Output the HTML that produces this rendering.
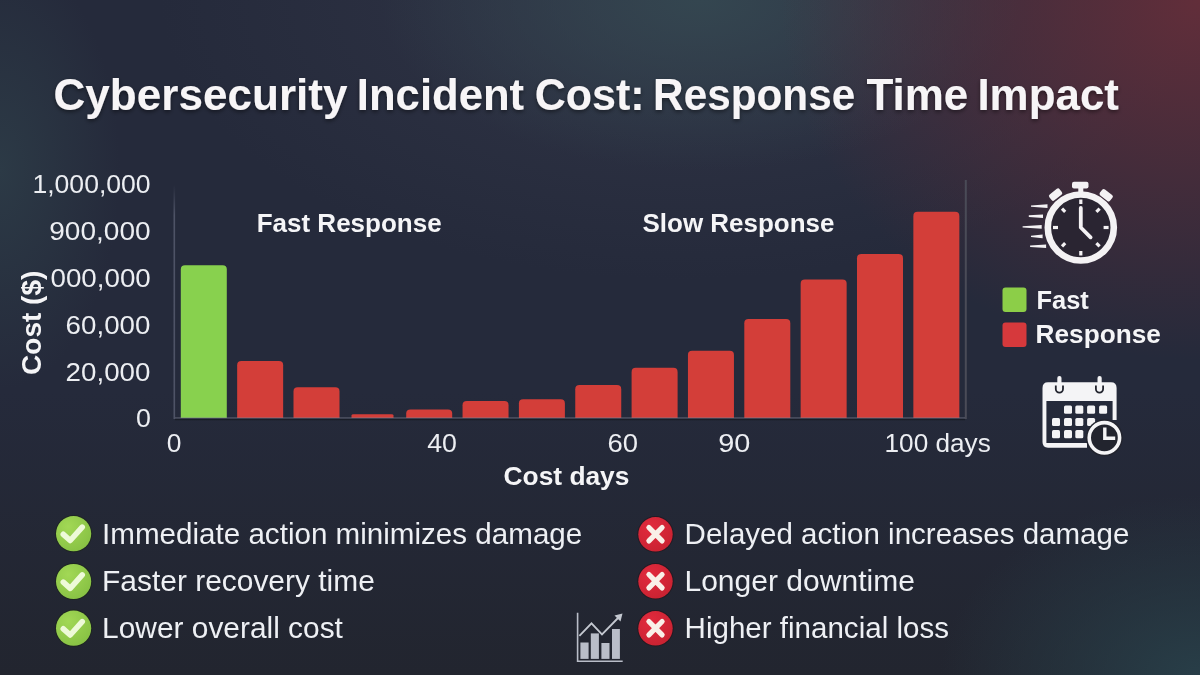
<!DOCTYPE html>
<html>
<head>
<meta charset="utf-8">
<style>
html,body{margin:0;padding:0;}
body{width:1200px;height:675px;overflow:hidden;position:relative;
background:
 radial-gradient(ellipse 420px 360px at 1200px 0px, rgba(98,46,58,1), rgba(98,46,58,0) 100%),
 radial-gradient(ellipse 320px 170px at 700px 0px, rgba(52,70,80,1), rgba(52,70,80,0) 100%),
 radial-gradient(ellipse 520px 280px at 680px 0px, rgba(58,62,80,0.55), rgba(58,62,80,0) 100%),
 radial-gradient(ellipse 260px 180px at 1200px 675px, rgba(40,62,72,1), rgba(40,62,72,0) 100%),
 radial-gradient(ellipse 120px 220px at 0px 170px, rgba(44,58,70,1), rgba(44,58,70,0) 100%),
 linear-gradient(to bottom, #252a3b 0%, #252a3b 58%, #22252f 100%);
font-family:"Liberation Sans",sans-serif;}
svg{position:absolute;left:0;top:0;}
</style>
</head>
<body>
<svg width="1200" height="675" viewBox="0 0 1200 675">
<defs>
 <filter id="ts" x="-5%" y="-20%" width="110%" height="160%">
  <feDropShadow dx="0" dy="2" stdDeviation="2" flood-color="#000" flood-opacity="0.45"/>
 </filter>
</defs>
<!-- Title -->
<text id="title" y="110" font-family="Liberation Sans, sans-serif" font-weight="700" font-size="44" fill="#f7f5f7" filter="url(#ts)" text-anchor="start"><tspan x="53.4" textLength="294.19" lengthAdjust="spacingAndGlyphs">Cybersecurity</tspan> <tspan x="356.82" textLength="167.36" lengthAdjust="spacingAndGlyphs">Incident</tspan> <tspan x="534.64" textLength="110.02" lengthAdjust="spacingAndGlyphs">Cost:</tspan> <tspan x="653.12" textLength="202.13" lengthAdjust="spacingAndGlyphs">Response</tspan> <tspan x="866.4" textLength="101.91" lengthAdjust="spacingAndGlyphs">Time</tspan> <tspan x="977.41" textLength="141.52" lengthAdjust="spacingAndGlyphs">Impact</tspan></text>

<!-- axes -->
<defs>
 <linearGradient id="axfade" x1="0" y1="185" x2="0" y2="215" gradientUnits="userSpaceOnUse">
  <stop offset="0" stop-color="#4e5366" stop-opacity="0"/>
  <stop offset="1" stop-color="#4e5366" stop-opacity="1"/>
 </linearGradient>
</defs>
<rect x="173.5" y="184" width="1.6" height="235" fill="url(#axfade)"/>
<rect x="964.8" y="180" width="2" height="239" fill="#4a4b57"/>
<rect x="175" y="419" width="790" height="1.2" fill="#171a24" opacity="0.8"/>
<!-- bars -->
<g id="bars">
 <path d="M180.80,418 V269.40 Q180.80,265.20 185.00,265.20 H222.60 Q226.80,265.20 226.80,269.40 V418 Z" fill="#88d14e"/>
 <path d="M237.15,418 V365.30 Q237.15,361.10 241.35,361.10 H278.95 Q283.15,361.10 283.15,365.30 V418 Z" fill="#d33e39"/>
 <path d="M293.50,418 V391.40 Q293.50,387.20 297.70,387.20 H335.30 Q339.50,387.20 339.50,391.40 V418 Z" fill="#d33e39"/>
 <path d="M351.5,418 V415.6 Q351.5,414.2 353.5,414.2 H391.5 Q393.5,414.2 393.5,415.6 V418 Z" fill="#d33e39"/>
 <path d="M406.20,418 V413.60 Q406.20,409.40 410.40,409.40 H448.00 Q452.20,409.40 452.20,413.60 V418 Z" fill="#d33e39"/>
 <path d="M462.55,418 V405.20 Q462.55,401.00 466.75,401.00 H504.35 Q508.55,401.00 508.55,405.20 V418 Z" fill="#d33e39"/>
 <path d="M518.90,418 V403.50 Q518.90,399.30 523.10,399.30 H560.70 Q564.90,399.30 564.90,403.50 V418 Z" fill="#d33e39"/>
 <path d="M575.25,418 V389.20 Q575.25,385.00 579.45,385.00 H617.05 Q621.25,385.00 621.25,389.20 V418 Z" fill="#d33e39"/>
 <path d="M631.60,418 V372.00 Q631.60,367.80 635.80,367.80 H673.40 Q677.60,367.80 677.60,372.00 V418 Z" fill="#d33e39"/>
 <path d="M687.95,418 V354.90 Q687.95,350.70 692.15,350.70 H729.75 Q733.95,350.70 733.95,354.90 V418 Z" fill="#d33e39"/>
 <path d="M744.30,418 V323.30 Q744.30,319.10 748.50,319.10 H786.10 Q790.30,319.10 790.30,323.30 V418 Z" fill="#d33e39"/>
 <path d="M800.65,418 V283.80 Q800.65,279.60 804.85,279.60 H842.45 Q846.65,279.60 846.65,283.80 V418 Z" fill="#d33e39"/>
 <path d="M857.00,418 V258.20 Q857.00,254.00 861.20,254.00 H898.80 Q903.00,254.00 903.00,258.20 V418 Z" fill="#d33e39"/>
 <path d="M913.35,418 V215.90 Q913.35,211.70 917.55,211.70 H955.15 Q959.35,211.70 959.35,215.90 V418 Z" fill="#d33e39"/>
</g>

<rect x="175" y="417.3" width="790" height="1.2" fill="#7d8290" opacity="0.55"/>

<!-- y labels -->
<g font-family="Liberation Sans, sans-serif" font-size="26" fill="#eceef2" text-anchor="end">
 <text id="y1M" x="32.43" y="193" text-anchor="start" textLength="118.23" lengthAdjust="spacingAndGlyphs">1,000,000</text>
 <text id="y900" x="49.25" y="240" text-anchor="start" textLength="101.34" lengthAdjust="spacingAndGlyphs">900,000</text>
 <text id="y000" x="50.48" y="287" text-anchor="start" textLength="100.32" lengthAdjust="spacingAndGlyphs">000,000</text>
 <text id="y60" x="65.63" y="334" text-anchor="start" textLength="84.73" lengthAdjust="spacingAndGlyphs">60,000</text>
 <text id="y20" x="65.63" y="381" text-anchor="start" textLength="84.73" lengthAdjust="spacingAndGlyphs">20,000</text>
 <text id="y0" x="135.99" y="427" text-anchor="start" textLength="14.91" lengthAdjust="spacingAndGlyphs">0</text>
</g>
<text id="costS" transform="translate(41,322.8) rotate(-90)" text-anchor="middle" font-family="Liberation Sans, sans-serif" font-weight="700" font-size="28" fill="#f5f5f7">Cost ($)</text>

<!-- x labels -->
<g font-family="Liberation Sans, sans-serif" font-size="26" fill="#eceef2">
 <text id="x0" x="166.76" y="452" text-anchor="start" textLength="14.69" lengthAdjust="spacingAndGlyphs">0</text>
 <text id="x40" x="427.21" y="452" text-anchor="start" textLength="29.75" lengthAdjust="spacingAndGlyphs">40</text>
 <text id="x60" x="607.49" y="452" text-anchor="start" textLength="30.53" lengthAdjust="spacingAndGlyphs">60</text>
 <text id="x90" x="718.21" y="452" text-anchor="start" textLength="32.14" lengthAdjust="spacingAndGlyphs">90</text>
 <text id="x100" x="884.54" y="452" text-anchor="start" textLength="106.25" lengthAdjust="spacingAndGlyphs">100 days</text>
</g>
<text id="costdays" x="503.54" y="484.5" font-family="Liberation Sans, sans-serif" font-weight="700" font-size="26.3" fill="#f5f5f7" text-anchor="start" textLength="125.89" lengthAdjust="spacingAndGlyphs">Cost days</text>

<!-- annotations -->
<g font-family="Liberation Sans, sans-serif" font-weight="700" font-size="25.8" fill="#f5f5f7">
 <text id="fastR" x="256.66" y="231.7" text-anchor="start" textLength="185.04" lengthAdjust="spacingAndGlyphs">Fast Response</text>
 <text id="slowR" x="642.48" y="231.7" text-anchor="start" textLength="191.97" lengthAdjust="spacingAndGlyphs">Slow Response</text>
</g>

<!-- legend -->
<rect x="1002.5" y="287.5" width="24" height="24.5" rx="3" fill="#8cce48"/>
<rect x="1002.5" y="322.5" width="24" height="24.5" rx="3" fill="#d6393c"/>
<g font-family="Liberation Sans, sans-serif" font-weight="700" font-size="25.8" fill="#f5f5f7">
 <text id="fast" x="1036.46" y="308.5" text-anchor="start" textLength="52.33" lengthAdjust="spacingAndGlyphs">Fast</text>
 <text id="resp" x="1035.6" y="343" text-anchor="start" textLength="125.33" lengthAdjust="spacingAndGlyphs">Response</text>
</g>

<!-- stopwatch -->
<g id="stopwatch" fill="none" stroke="#f4f2f4">
 <rect x="1072" y="181.7" width="16.5" height="6.8" rx="2" fill="#f4f2f4" stroke="none"/>
 <rect x="1078.3" y="187" width="5" height="5.5" fill="#f4f2f4" stroke="none"/>
 <rect x="-6.5" y="-3.8" width="13" height="7.6" rx="2" fill="#f4f2f4" stroke="none" transform="translate(1055.6,194.6) rotate(-38)"/>
 <rect x="-6.5" y="-3.8" width="13" height="7.6" rx="2" fill="#f4f2f4" stroke="none" transform="translate(1106.2,195.2) rotate(38)"/>
 <circle cx="1080.8" cy="227.5" r="33" stroke-width="6.6" fill="#2a2532"/>
 <g stroke-width="3.2">
  <line x1="1080.8" y1="199.5" x2="1080.8" y2="204"/>
  <line x1="1053" y1="227.5" x2="1058" y2="227.5"/>
  <line x1="1103.6" y1="227.5" x2="1108.6" y2="227.5"/>
  <line x1="1080.8" y1="251" x2="1080.8" y2="255.5"/>
  <line x1="1062" y1="208.7" x2="1065.2" y2="211.9"/>
  <line x1="1099.6" y1="208.7" x2="1096.4" y2="211.9"/>
  <line x1="1062" y1="246.3" x2="1065.2" y2="243.1"/>
  <line x1="1099.6" y1="246.3" x2="1096.4" y2="243.1"/>
 </g>
 <polyline points="1080.8,208 1080.8,227.5 1090.6,237.3" stroke-width="3.8" stroke-linejoin="round" stroke-linecap="round"/>
</g>
<g id="speed" fill="#f4f2f4">
 <path d="M1031,205.4 L1047.5,204.3 L1047.5,207.9 L1031,206.8 Z"/>
 <path d="M1028.8,215.3 L1043,214.4 L1043,218 L1028.8,217.1 Z"/>
 <path d="M1022.6,226.2 L1041.7,225.1 L1041.7,228.7 L1022.6,227.6 Z"/>
 <path d="M1031,235.7 L1042.6,234.6 L1042.6,238.2 L1031,237.1 Z"/>
 <path d="M1030.1,245.5 L1046.1,244.4 L1046.1,248 L1030.1,246.9 Z"/>
</g>

<!-- calendar -->
<g id="calendar">
 <path d="M1048,382.2 H1111 Q1116.6,382.2 1116.6,388 V420 H1112.6 V401 H1046.4 V442.9 H1087 V447.7 H1048 Q1042.5,447.7 1042.5,442 V388 Q1042.5,382.2 1048,382.2 Z" fill="#f4f4f6"/>
 <rect x="1057.3" y="376" width="4.2" height="10" rx="2" fill="#f4f4f6"/>
 <rect x="1097.5" y="376" width="4.2" height="10" rx="2" fill="#f4f4f6"/>
 <path d="M1055.8,385.5 V389 A3.6,3.6 0 0 0 1063,389 V385.5" fill="none" stroke="#22242e" stroke-width="1.8"/>
 <path d="M1095.9,385.5 V389 A3.6,3.6 0 0 0 1103.1,389 V385.5" fill="none" stroke="#22242e" stroke-width="1.8"/>
 <g fill="#f4f4f6">
  <rect x="1064" y="405.6" width="8" height="8.1" rx="1.5"/>
  <rect x="1075.3" y="405.6" width="8" height="8.1" rx="1.5"/>
  <rect x="1087.1" y="405.6" width="8" height="8.1" rx="1.5"/>
  <rect x="1099.1" y="405.6" width="8" height="8.1" rx="1.5"/>
  <rect x="1052" y="418" width="8" height="8.1" rx="1.5"/>
  <rect x="1064" y="418" width="8" height="8.1" rx="1.5"/>
  <rect x="1075.3" y="418" width="8" height="8.1" rx="1.5"/>
  <rect x="1087.1" y="418" width="8" height="8.1" rx="1.5"/>
  <rect x="1052" y="430.1" width="8" height="8.1" rx="1.5"/>
  <rect x="1064" y="430.1" width="8" height="8.1" rx="1.5"/>
  <rect x="1075.3" y="430.1" width="8" height="8.1" rx="1.5"/>
 </g>
 <circle cx="1104.4" cy="437.8" r="18.5" fill="#22242e"/>
 <circle cx="1104.4" cy="437.8" r="15.2" fill="none" stroke="#f4f4f6" stroke-width="3.6"/>
 <polyline points="1104.8,427.5 1104.8,438.3 1115.2,438.3" fill="none" stroke="#f4f4f6" stroke-width="3.4"/>
</g>

<!-- chart icon -->
<g id="charticon">
 <g fill="#b9bdc8">
  <rect x="580.4" y="642.5" width="8.2" height="16.4"/>
  <rect x="590.8" y="633.4" width="8.1" height="25.5"/>
  <rect x="601.4" y="643" width="8.1" height="15.9"/>
  <rect x="612" y="629" width="7.9" height="29.9"/>
 </g>
 <path d="M577.6,612.7 V661.3 H622.7" fill="none" stroke="#b9bdc8" stroke-width="1.6"/>
 <polyline points="579.4,635.8 591.5,623.3 602,634.4 619,617" fill="none" stroke="#c4c8d0" stroke-width="1.8"/>
 <path d="M622.5,613.5 L614.5,615.5 L620.5,621.5 Z" fill="#c4c8d0"/>
</g>

<!-- check icons -->
<defs>
 <radialGradient id="gcheck" cx="0.35" cy="0.3" r="0.8">
  <stop offset="0" stop-color="#a2d855"/>
  <stop offset="1" stop-color="#86c043"/>
 </radialGradient>
 <radialGradient id="gx" cx="0.35" cy="0.3" r="0.8">
  <stop offset="0" stop-color="#e12a3d"/>
  <stop offset="1" stop-color="#c82231"/>
 </radialGradient>
</defs>
<g id="checks">
 <g transform="translate(73.6,533.7)">
  <circle r="18.6" fill="#1a2414" opacity="0.55"/>
  <circle r="17.6" fill="url(#gcheck)"/>
  <polyline points="-10.3,0.6 -3.4,6.8 8.6,-6.6" fill="none" stroke="#eefad8" stroke-width="5.6" stroke-linecap="round" stroke-linejoin="round"/>
 </g>
 <g transform="translate(73.6,581.5)">
  <circle r="18.6" fill="#1a2414" opacity="0.55"/>
  <circle r="17.6" fill="url(#gcheck)"/>
  <polyline points="-10.3,0.6 -3.4,6.8 8.6,-6.6" fill="none" stroke="#eefad8" stroke-width="5.6" stroke-linecap="round" stroke-linejoin="round"/>
 </g>
 <g transform="translate(73.6,628.2)">
  <circle r="18.6" fill="#1a2414" opacity="0.55"/>
  <circle r="17.6" fill="url(#gcheck)"/>
  <polyline points="-10.3,0.6 -3.4,6.8 8.6,-6.6" fill="none" stroke="#eefad8" stroke-width="5.6" stroke-linecap="round" stroke-linejoin="round"/>
 </g>
</g>
<g id="xs">
 <g transform="translate(655.5,534.3)">
  <circle r="18.2" fill="#240d12" opacity="0.5"/>
  <circle r="17.2" fill="url(#gx)"/>
  <path d="M-6.6,-6.8 L6.6,6.6 M6.6,-6.8 L-6.6,6.6" stroke="#f9f0e8" stroke-width="5.2" stroke-linecap="round"/>
 </g>
 <g transform="translate(655.5,581.3)">
  <circle r="18.2" fill="#240d12" opacity="0.5"/>
  <circle r="17.2" fill="url(#gx)"/>
  <path d="M-6.6,-6.8 L6.6,6.6 M6.6,-6.8 L-6.6,6.6" stroke="#f9f0e8" stroke-width="5.2" stroke-linecap="round"/>
 </g>
 <g transform="translate(655.5,628.3)">
  <circle r="18.2" fill="#240d12" opacity="0.5"/>
  <circle r="17.2" fill="url(#gx)"/>
  <path d="M-6.6,-6.8 L6.6,6.6 M6.6,-6.8 L-6.6,6.6" stroke="#f9f0e8" stroke-width="5.2" stroke-linecap="round"/>
 </g>
</g>

<!-- bullets -->
<g font-family="Liberation Sans, sans-serif" font-size="29" fill="#eef0f4">
 <text id="b1" x="102.06" y="544" text-anchor="start" textLength="480.25" lengthAdjust="spacingAndGlyphs">Immediate action minimizes damage</text>
 <text id="b2" x="102.1" y="591" text-anchor="start" textLength="272.7" lengthAdjust="spacingAndGlyphs">Faster recovery time</text>
 <text id="b3" x="102.11" y="638" text-anchor="start" textLength="240.8" lengthAdjust="spacingAndGlyphs">Lower overall cost</text>
 <text id="b4" x="684.6" y="544" text-anchor="start" textLength="444.73" lengthAdjust="spacingAndGlyphs">Delayed action increases damage</text>
 <text id="b5" x="684.47" y="591" text-anchor="start" textLength="230.41" lengthAdjust="spacingAndGlyphs">Longer downtime</text>
 <text id="b6" x="684.58" y="638" text-anchor="start" textLength="264.36" lengthAdjust="spacingAndGlyphs">Higher financial loss</text>
</g>
</svg>
</body>
</html>
